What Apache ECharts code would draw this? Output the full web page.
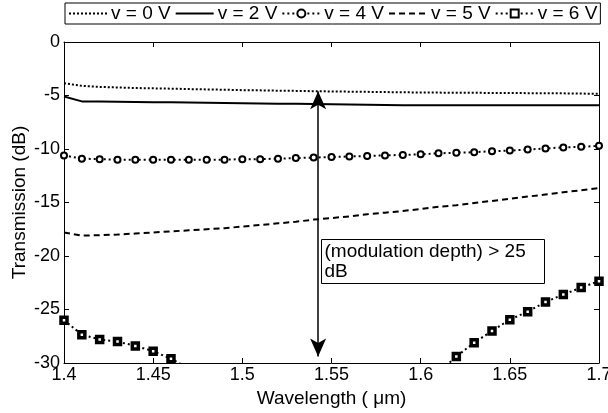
<!DOCTYPE html>
<html>
<head>
<meta charset="utf-8">
<script src="https://cdn.jsdelivr.net/npm/echarts@6/dist/echarts.min.js"></script>
<style>html,body{margin:0;padding:0;background:#fff}#c{width:608px;height:413px}</style>
</head>
<body>
<div id="c"></div>
<script>
const wavelengths = [1.40,1.41,1.42,1.43,1.44,1.45,1.46,1.47,1.48,1.49,1.50,1.51,1.52,1.53,1.54,1.55,1.56,1.57,1.58,1.59,1.60,1.61,1.62,1.63,1.64,1.65,1.66,1.67,1.68,1.69,1.70];
const v0 = [-3.85,-4.1,-4.2,-4.25,-4.3,-4.33,-4.36,-4.4,-4.43,-4.46,-4.5,-4.52,-4.55,-4.57,-4.6,-4.62,-4.64,-4.66,-4.68,-4.7,-4.72,-4.73,-4.74,-4.75,-4.76,-4.77,-4.78,-4.79,-4.8,-4.82,-4.85];
const v2 = [-5.1,-5.55,-5.56,-5.58,-5.6,-5.62,-5.64,-5.66,-5.68,-5.7,-5.72,-5.74,-5.76,-5.78,-5.8,-5.82,-5.84,-5.86,-5.88,-5.9,-5.9,-5.9,-5.9,-5.9,-5.9,-5.9,-5.9,-5.9,-5.9,-5.9,-5.92];
const v4 = [-10.6,-10.9,-10.95,-11.0,-11.0,-11.0,-11.0,-11.0,-11.0,-11.0,-10.95,-10.95,-10.9,-10.85,-10.8,-10.75,-10.7,-10.65,-10.6,-10.55,-10.5,-10.4,-10.35,-10.3,-10.2,-10.15,-10.05,-9.95,-9.85,-9.8,-9.7];
const v5 = [-17.8,-18.1,-18.05,-18.0,-17.9,-17.8,-17.7,-17.6,-17.5,-17.4,-17.25,-17.1,-16.95,-16.8,-16.6,-16.45,-16.3,-16.1,-15.95,-15.8,-15.6,-15.4,-15.25,-15.05,-14.85,-14.65,-14.45,-14.25,-14.05,-13.85,-13.65];
const v6 = [-26.0,-27.35,-27.8,-28.0,-28.4,-28.9,-29.6,-30.5,null,null,null,null,null,null,null,null,null,null,null,null,null,-30.9,-29.4,-28.1,-27.0,-25.95,-25.2,-24.3,-23.6,-22.95,-22.35];
const seriesNames = ['v = 0 V','v = 2 V','v = 4 V','v = 5 V','v = 6 V'];
const xTicks = {min:1.4, max:1.7, step:0.05};
const yTicks = {min:-30, max:0, step:5};
const arrowX = 1.5425, arrowTop = -4.6, arrowBottom = -29.4;
const annotationText = '(modulation depth) > 25\ndB';

const pair = arr => wavelengths.map((w,i)=>[w,arr[i]]);
const font = 'Liberation Sans, Arial, sans-serif';
const chart = echarts.init(document.getElementById('c'));
const axisCommon = {
  axisLine:{show:true,onZero:false,lineStyle:{color:'#000',width:1}},
  axisTick:{show:true,inside:true,length:5,lineStyle:{color:'#000'}},
  splitLine:{show:false}
};
const noMarker = {itemStyle:{color:'rgba(0,0,0,0)',borderColor:'rgba(0,0,0,0)',borderWidth:0}};
chart.setOption({
  animation:false,
  backgroundColor:'#fff',
  textStyle:{fontFamily:font},
  grid:{left:64,right:9,top:42,bottom:50,containLabel:false,outerBoundsMode:'none'},
  legend:{
    left:65, top:3, padding:[1,3,1,3], itemGap:4, itemWidth:38, itemHeight:10,
    borderColor:'#000', borderWidth:1, borderRadius:0,
    textStyle:{fontSize:19,color:'#000',fontFamily:font,padding:[0,0,0,-1]},
    data:[
      Object.assign({name:seriesNames[0]},noMarker),
      Object.assign({name:seriesNames[1]},noMarker),
      {name:seriesNames[2]},
      Object.assign({name:seriesNames[3]},noMarker),
      {name:seriesNames[4]}
    ]
  },
  xAxis:[
    Object.assign({type:'value',min:xTicks.min,max:xTicks.max,interval:xTicks.step,
      name:'Wavelength ( μm)',nameLocation:'middle',nameGap:26,nameMoveOverlap:false,
      nameTextStyle:{fontSize:19,color:'#000',fontFamily:font},
      axisLabel:{color:'#000',fontSize:18,margin:3,fontFamily:font,formatter:v=>String(+v.toFixed(2))}},axisCommon),
    Object.assign({type:'value',position:'top',min:xTicks.min,max:xTicks.max,interval:xTicks.step,axisLabel:{show:false}},axisCommon)
  ],
  yAxis:[
    Object.assign({type:'value',min:yTicks.min,max:yTicks.max,interval:yTicks.step,
      name:'Transmission (dB)',nameLocation:'middle',nameGap:35,nameRotate:90,nameMoveOverlap:false,
      nameTextStyle:{fontSize:19,color:'#000',fontFamily:font},
      axisLabel:{color:'#000',fontSize:18,margin:4,fontFamily:font}},axisCommon),
    Object.assign({type:'value',position:'right',min:yTicks.min,max:yTicks.max,interval:yTicks.step,axisLabel:{show:false}},axisCommon)
  ],
  series:[
    {name:seriesNames[0],type:'line',data:pair(v0),symbol:'none',color:'#000',
     lineStyle:{color:'#000',width:2,type:[2,2]},
     markLine:{silent:true,symbol:['arrow','arrow'],symbolSize:[12,18],
       lineStyle:{color:'#000',width:1.5,type:'solid'},label:{show:false},
       data:[[{coord:[arrowX,arrowTop]},{coord:[arrowX,arrowBottom]}]]}},
    {name:seriesNames[1],type:'line',data:pair(v2),symbol:'none',color:'#000',
     lineStyle:{color:'#000',width:2,type:'solid'}},
    {name:seriesNames[2],type:'line',data:pair(v4),symbol:'circle',symbolSize:6,showAllSymbol:true,color:'#000',
     itemStyle:{color:'#fff',borderColor:'#000',borderWidth:2},
     lineStyle:{color:'#000',width:2,type:[2,3]}},
    {name:seriesNames[3],type:'line',data:pair(v5),symbol:'none',color:'#000',
     lineStyle:{color:'#000',width:2,type:[6,4]}},
    {name:seriesNames[4],type:'line',data:pair(v6),symbol:'rect',symbolSize:6,showAllSymbol:true,color:'#000',
     itemStyle:{color:'#fff',borderColor:'#000',borderWidth:3.5},
     lineStyle:{color:'#000',width:2,type:[2,3]}}
  ],
  graphic:[{
    type:'group',left:321,top:239,children:[
      {type:'rect',shape:{x:0,y:0,width:223,height:44},style:{fill:'#fff',stroke:'#000',lineWidth:1}},
      {type:'text',left:3,top:2,style:{text:annotationText,fontSize:19,lineHeight:20,fill:'#000',fontFamily:font}}
    ]
  }]
});
</script>
</body>
</html>
